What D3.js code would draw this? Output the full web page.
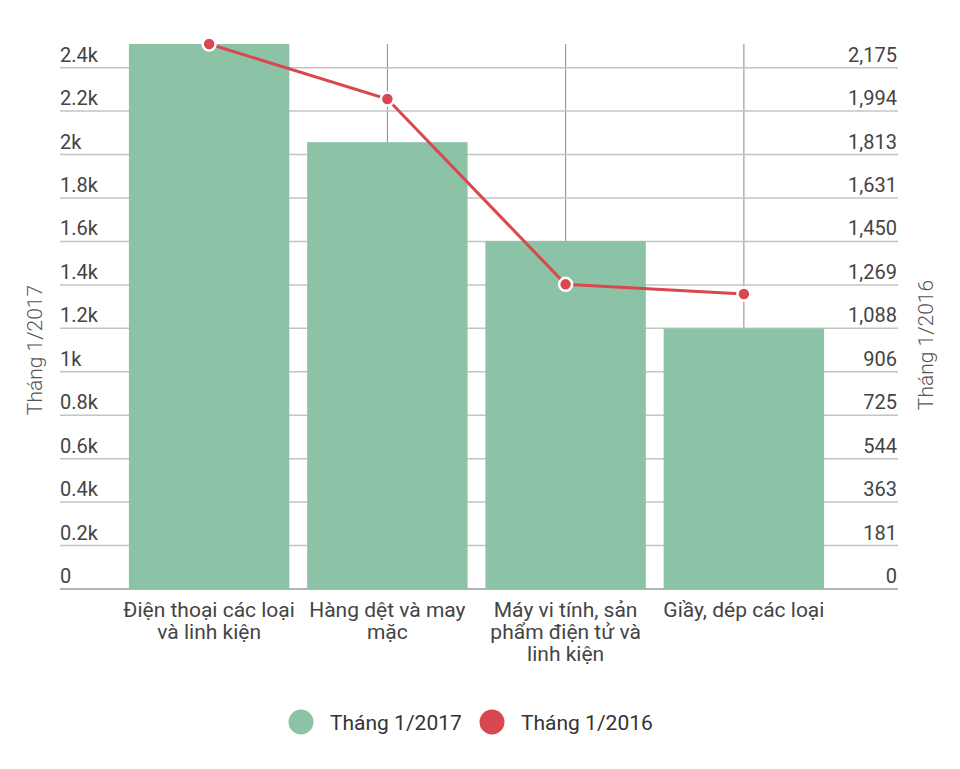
<!DOCTYPE html>
<html>
<head>
<meta charset="utf-8">
<script src="https://cdn.jsdelivr.net/npm/d3@7"></script>
<style>
  body { margin: 0; background: #fff; }
  text { font-family: Roboto, "Noto Sans", sans-serif; }
</style>
</head>
<body>
<div id="chart"></div>
<script>
// data
var categories = ["Điện thoại các loại và linh kiện", "Hàng dệt và may mặc", "Máy vi tính, sản phẩm điện tử và linh kiện", "Giầy, dép các loại"];
var values2017 = [2509, 2057, 1602, 1200];
var values2016 = [2274, 2044, 1271, 1231];
var leftTicks = [0, 200, 400, 600, 800, 1000, 1200, 1400, 1600, 1800, 2000, 2200, 2400];
var leftTickLabels = ["0", "0.2k", "0.4k", "0.6k", "0.8k", "1k", "1.2k", "1.4k", "1.6k", "1.8k", "2k", "2.2k", "2.4k"];
var rightTickLabels = ["0", "181", "363", "544", "725", "906", "1,088", "1,269", "1,450", "1,631", "1,813", "1,994", "2,175"];
var seriesNames = ["Tháng 1/2017", "Tháng 1/2016"];

var width = 960, height = 769;
var green = "#8cc3a6", red = "#d9474f";

// plot box
var plotLeft = 60, plotRight = 898, plotTop = 44, plotBottom = 589;

var svg = d3.select("#chart").append("svg")
    .attr("width", width)
    .attr("height", height);

var x = d3.scaleBand()
    .domain(categories)
    .range([120, 833])
    .paddingInner(0.1)
    .paddingOuter(0.05);

var yLeft = d3.scaleLinear().domain([0, 2509]).range([plotBottom, plotTop]);
// right axis shares gridlines, 2175 sits where 2400 sits
var yRight = d3.scaleLinear().domain([0, 2509 * 2175 / 2400]).range([plotBottom, plotTop]);

// vertical gridlines at category centres
svg.append("g").selectAll("line")
    .data(categories)
    .enter().append("line")
    .attr("x1", d => x(d) + x.bandwidth() / 2)
    .attr("x2", d => x(d) + x.bandwidth() / 2)
    .attr("y1", plotTop)
    .attr("y2", plotBottom)
    .attr("stroke", "#8a8a8a")
    .attr("stroke-width", 1);

// horizontal gridlines
svg.append("g").selectAll("line")
    .data(leftTicks)
    .enter().append("line")
    .attr("x1", plotLeft)
    .attr("x2", plotRight)
    .attr("y1", d => yLeft(d))
    .attr("y2", d => yLeft(d))
    .attr("stroke", d => d === 0 ? "#9a9a9a" : "#c4c4c4")
    .attr("stroke-width", 1.5);

// left tick labels
svg.append("g").selectAll("text")
    .data(leftTicks)
    .enter().append("text")
    .attr("x", plotLeft)
    .attr("y", d => yLeft(d) - 6)
    .attr("font-size", 20)
    .attr("fill", "#444")
    .text((d, i) => leftTickLabels[i]);

// right tick labels
svg.append("g").selectAll("text")
    .data(rightTickLabels)
    .enter().append("text")
    .attr("x", plotRight - 1)
    .attr("y", (d, i) => yLeft(leftTicks[i]) - 6)
    .attr("text-anchor", "end")
    .attr("font-size", 20)
    .attr("fill", "#444")
    .text(d => d);

// bars
svg.append("g").selectAll("rect")
    .data(values2017)
    .enter().append("rect")
    .attr("x", (d, i) => x(categories[i]))
    .attr("y", d => yLeft(d))
    .attr("width", x.bandwidth())
    .attr("height", d => plotBottom - yLeft(d))
    .attr("fill", green);

// line
var line = d3.line()
    .x((d, i) => x(categories[i]) + x.bandwidth() / 2)
    .y(d => yRight(d));

svg.append("path")
    .datum(values2016)
    .attr("d", line)
    .attr("fill", "none")
    .attr("stroke", red)
    .attr("stroke-width", 3);

svg.append("g").selectAll("circle")
    .data(values2016)
    .enter().append("circle")
    .attr("cx", (d, i) => x(categories[i]) + x.bandwidth() / 2)
    .attr("cy", d => yRight(d))
    .attr("r", 6.5)
    .attr("fill", red)
    .attr("stroke", "#fff")
    .attr("stroke-width", 2.5);

// category labels, wrapped
function wrap(textSel, w) {
  textSel.each(function() {
    var t = d3.select(this);
    var words = t.text().split(" ");
    var lineWords = [];
    var cx = t.attr("x");
    var tspan = t.text(null).append("tspan").attr("x", cx).attr("dy", 0);
    words.forEach(function(word) {
      lineWords.push(word);
      tspan.text(lineWords.join(" "));
      if (tspan.node().getComputedTextLength() > w && lineWords.length > 1) {
        lineWords.pop();
        tspan.text(lineWords.join(" "));
        lineWords = [word];
        tspan = t.append("tspan").attr("x", cx).attr("dy", 22).text(word);
      }
    });
  });
}

svg.append("g").selectAll("text")
    .data(categories)
    .enter().append("text")
    .attr("x", d => x(d) + x.bandwidth() / 2)
    .attr("y", 617)
    .attr("text-anchor", "middle")
    .attr("font-size", 21)
    .attr("fill", "#444")
    .text(d => d)
    .call(wrap, 178);

// axis titles
svg.append("text")
    .attr("transform", "translate(42,350) rotate(-90)")
    .attr("text-anchor", "middle")
    .attr("font-size", 21)
    .attr("font-weight", 300)
    .attr("fill", "#555")
    .text(seriesNames[0]);

svg.append("text")
    .attr("transform", "translate(933,345) rotate(-90)")
    .attr("text-anchor", "middle")
    .attr("font-size", 21)
    .attr("font-weight", 300)
    .attr("fill", "#555")
    .text(seriesNames[1]);

// legend
var legendX = [301, 492];
var legend = svg.append("g").selectAll("g")
    .data(seriesNames)
    .enter().append("g")
    .attr("transform", (d, i) => "translate(" + legendX[i] + ",722)");

legend.append("circle")
    .attr("r", 12.5)
    .attr("fill", (d, i) => i === 0 ? green : red);

legend.append("text")
    .attr("x", 29)
    .attr("y", 8)
    .attr("font-size", 21)
    .attr("fill", "#333")
    .text(d => d);
</script>
</body>
</html>
